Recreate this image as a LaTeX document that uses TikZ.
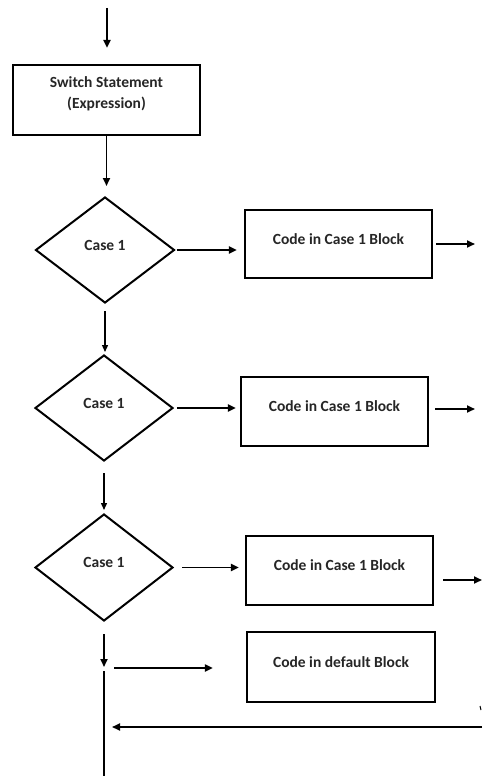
\documentclass[tikz,border=0pt]{standalone}
\usepackage{fontspec}
\setmainfont{Carlito}
\usetikzlibrary{shapes.geometric,arrows.meta}
\begin{document}
\begin{tikzpicture}[x=1pt,y=-1pt,
  lbl/.style={font=\bfseries\fontsize{15.5}{18}\selectfont, text=black!85},
  blockbox/.style={draw, line width=2.2pt, minimum width=187pt, minimum height=69pt,
    inner sep=0pt, lbl, text height=8pt, text depth=8pt},
  casebox/.style={diamond, draw, line width=2pt, minimum width=139pt,
    minimum height=106pt, inner sep=0pt, lbl, text height=6pt, text depth=6pt},
  arr/.style={-{Triangle[length=8pt,width=7pt]}, line width=1.9pt},
  thinarr/.style={-{Triangle[length=7pt,width=6pt]}, line width=1.3pt},
  plain/.style={line width=1.9pt}]
\useasboundingbox (0,0) rectangle (482,776);

% switch head
\coordinate (entry) at (107,8);
\node[blockbox, minimum height=70pt] (sw) at (106.5,100) {};
\node[lbl, anchor=base] (swa) at (106.5,88) {Switch Statement};
\node[lbl, anchor=base] (swb) at (106.5,108.5) {(Expression)};

% cases
\node[casebox] (d1) at (105,250) {Case 1};
\node[casebox, minimum width=138pt] (d2) at (104,408) {Case 1};
\node[casebox, minimum width=138pt, minimum height=107pt] (d3) at (104,567.5) {Case 1};

% case blocks
\node[blockbox, minimum height=68pt] (b1) at (338.5,244) {Code in Case 1 Block};
\node[blockbox] (b2) at (334.5,411.5) {Code in Case 1 Block};
\node[blockbox] (b3) at (339.5,570.5) {Code in Case 1 Block};
\node[blockbox, minimum width=188pt, minimum height=70pt] (bd) at (341,667) {Code in default Block};

% loose ends
\coordinate (o1) at (475,244);
\coordinate (o2) at (475,409);
\coordinate (o3) at (482,580);
\coordinate (j) at (104,668);
\coordinate (bot) at (104,776);
\coordinate (ret) at (482,727);

% vertical flow
\draw[arr, shorten >=16pt] (entry) -- (entry |- sw.north);
\draw[arr, shorten >=10pt] (sw.south) -- (sw.south |- d1.north);
\draw[thinarr, shorten <=7pt, shorten >=2pt] (d1.south) -- (d1.south |- d2.north);
\draw[thinarr, shorten <=11pt, shorten >=3pt] (d2.south) -- (d2.south |- d3.north);
\draw[arr, shorten <=12pt, shorten >=1pt] (d3.south) -- (j);
\draw[plain, shorten <=3pt] (j) -- (bot);

% case branches
\draw[arr, shorten <=1pt, shorten >=7pt] (d1.east) -- (d1.east -| b1.west);
\draw[arr, shorten <=3pt, shorten >=4pt] (d2.east) -- (d2.east -| b2.west);
\draw[arr, shorten <=8pt, shorten >=6pt] (d3.east) -- (d3.east -| b3.west);
\draw[arr, shorten <=3pt] (b1.east) -- (o1);
\draw[arr, shorten <=6pt] (b2.east |- o2) -- (o2);
\draw[arr, shorten <=9pt] (b3.east |- o3) -- (o3);

% default branch and return line
\draw[arr, shorten <=10pt, shorten >=33pt] (j) -- (j -| bd.west);
\draw[arr, line width=1.7pt, shorten >=8pt] (ret) -- (ret -| j);
\draw[line width=1pt] (480,706) -- (481,710);
\end{tikzpicture}
\end{document}
